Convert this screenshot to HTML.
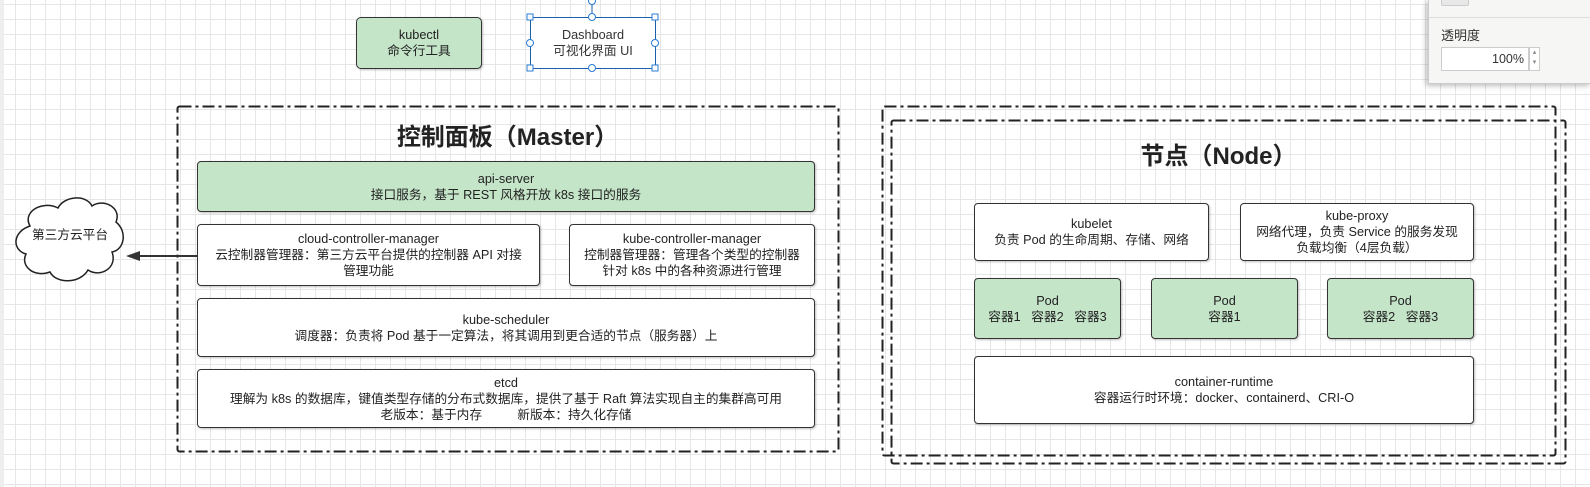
<!DOCTYPE html>
<html><head><meta charset="utf-8"><style>
html,body{margin:0;padding:0}
body{width:1590px;height:487px;position:relative;overflow:hidden;background-color:#fff;
background-image:linear-gradient(#e6e6e6 1px,transparent 1px),linear-gradient(90deg,#e6e6e6 1px,transparent 1px);
background-size:15px 15px;background-position:0 4px;
font-family:"Liberation Sans","Noto Sans CJK SC",sans-serif;color:#222}
.b{position:absolute;box-sizing:border-box;border:1.6px solid #333;border-radius:4px;background:#fff;
display:flex;align-items:center;justify-content:center;text-align:center;font-size:12.7px;line-height:16px;
box-shadow:1px 1px 2px rgba(0,0,0,.25)}
.g{background:#c5e5c9}
.t{position:absolute;font-weight:bold;font-size:24px;text-align:center}
svg{position:absolute;left:0;top:0}
</style></head><body>
<div style="position:absolute;left:0;top:0;width:4px;height:487px;background:#eee"></div>
<svg width="1590" height="487">
<g fill="none" stroke="#222" stroke-width="2" stroke-dasharray="12,4,3,4">
<rect x="177.5" y="106.5" width="661" height="345" rx="2"/>
<rect x="882.5" y="106.5" width="673" height="349" rx="2"/>
<rect x="891.5" y="120.5" width="674" height="343" rx="2"/>
</g>
<path d="M30,226 C22,212 42,200 58,208 C64,196 86,194 92,206 C104,198 122,208 116,222 C128,232 124,250 112,252 C118,268 100,278 88,270 C80,284 56,284 50,272 C34,278 20,266 26,254 C12,250 12,232 30,226 Z" fill="#fff" stroke="#222" stroke-width="1.5"/>
<line x1="197" y1="256" x2="138" y2="256" stroke="#333" stroke-width="2"/>
<path d="M126,256 L140,251 L140,261 Z" fill="#333"/>
<line x1="592" y1="0" x2="592" y2="17" stroke="#1b5fa8" stroke-width="1"/>
</svg>
<div style="position:absolute;left:20px;top:224px;width:100px;text-align:center;font-size:12.7px">第三方云平台</div>
<div class="b g" style="left:356px;top:17px;width:126px;height:52px;border-radius:5px">kubectl<br>命令行工具</div>
<div class="b" style="left:530px;top:17px;width:126px;height:52px;border:1.5px solid #1b5fa8;border-radius:0;box-shadow:none;color:#333">Dashboard<br>可视化界面 UI</div>
<svg width="1590" height="487">
<g fill="#fff" stroke="#2a7bd6" stroke-width="1">
<rect x="527" y="14" width="6" height="6"/><rect x="652" y="14" width="6" height="6"/>
<rect x="527" y="65" width="6" height="6"/><rect x="652" y="65" width="6" height="6"/>
<circle cx="592" cy="17" r="3.5"/><circle cx="592" cy="68" r="3.5"/>
<circle cx="530" cy="43" r="3.5"/><circle cx="655" cy="43" r="3.5"/>
<circle cx="592" cy="1" r="3.5"/>
</g></svg>
<div class="t" style="left:177px;top:117px;width:661px">控制面板（Master）</div>
<div class="b g" style="left:197px;top:161px;width:618px;height:51px">api-server<br>接口服务，基于 REST 风格开放 k8s 接口的服务</div>
<div class="b" style="left:197px;top:224px;width:343px;height:62px">cloud-controller-manager<br>云控制器管理器：第三方云平台提供的控制器 API 对接<br>管理功能</div>
<div class="b" style="left:569px;top:224px;width:246px;height:62px">kube-controller-manager<br>控制器管理器：管理各个类型的控制器<br>针对 k8s 中的各种资源进行管理</div>
<div class="b" style="left:197px;top:298px;width:618px;height:59px">kube-scheduler<br>调度器：负责将 Pod 基于一定算法，将其调用到更合适的节点（服务器）上</div>
<div class="b" style="left:197px;top:369px;width:618px;height:59px">etcd<br>理解为 k8s 的数据库，键值类型存储的分布式数据库，提供了基于 Raft 算法实现自主的集群高可用<br>老版本：基于内存&nbsp;&nbsp;&nbsp;&nbsp;&nbsp;&nbsp;&nbsp;&nbsp;&nbsp;&nbsp;新版本：持久化存储</div>
<div class="t" style="left:882px;top:136px;width:673px">节点（Node）</div>
<div class="b" style="left:974px;top:203px;width:235px;height:58px">kubelet<br>负责 Pod 的生命周期、存储、网络</div>
<div class="b" style="left:1240px;top:203px;width:234px;height:58px">kube-proxy<br>网络代理，负责 Service 的服务发现<br>负载均衡（4层负载）</div>
<div class="b g" style="left:974px;top:278px;width:147px;height:61px">Pod<br>容器1&nbsp;&nbsp;&nbsp;容器2&nbsp;&nbsp;&nbsp;容器3</div>
<div class="b g" style="left:1151px;top:278px;width:147px;height:61px">Pod<br>容器1</div>
<div class="b g" style="left:1327px;top:278px;width:147px;height:61px">Pod<br>容器2&nbsp;&nbsp;&nbsp;容器3</div>
<div class="b" style="left:974px;top:356px;width:500px;height:68px">container-runtime<br>容器运行时环境：docker、containerd、CRI-O</div>
<div style="position:absolute;left:1428px;top:0;width:162px;height:83px;background:#f6f6f4;border-left:1px solid #ccc;border-bottom:1px solid #ccc;box-shadow:-2px 2px 5px rgba(0,0,0,.25)">
<div style="position:absolute;left:12px;top:-6px;width:26px;height:10px;background:#e8e8e8;border:1px solid #ccc;border-radius:2px"></div>
<div style="position:absolute;left:0;top:17px;width:162px;border-top:1px solid #ddd"></div>
<div style="position:absolute;left:12px;top:25px;font-size:13px;color:#333">透明度</div>
<div style="position:absolute;left:12px;top:47px;width:88px;height:24px;box-sizing:border-box;background:#fff;border:1px solid #ccc;font-size:12.5px;text-align:right;padding:4px 4px 0 0;color:#333">100%</div>
<div style="position:absolute;left:100px;top:47px;width:11px;height:24px;box-sizing:border-box;background:#fff;border:1px solid #ccc;font-size:7px;line-height:10px;color:#888;text-align:center">▴<br>▾</div>
</div>
</body></html>
